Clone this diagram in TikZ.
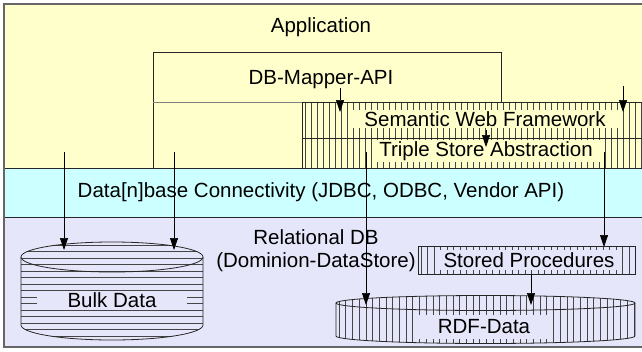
\documentclass[tikz,border=0pt]{standalone}
\usepackage{fontspec}
\setmainfont{Liberation Sans}
\usetikzlibrary{arrows.meta,positioning}
\definecolor{appyellow}{HTML}{FFFFCC}
\definecolor{conncyan}{HTML}{CCFFFF}
\definecolor{dblavender}{HTML}{E6E6FA}
\definecolor{hatchgray}{HTML}{454545}

\begin{document}
\begin{tikzpicture}[x=1pt,y=-1pt]
\tikzset{every node/.style={font=\fontsize{20.5}{23}\selectfont,inner sep=1pt}}
\tikzset{hatch/.style={hatchgray,line width=0.6pt}}
\tikzset{outline/.style={draw=black!85,line width=0.8pt}}
\tikzset{edge/.style={-{Triangle[length=12pt,width=8pt]},line width=0.7pt,black}}
\useasboundingbox (0,0) rectangle (642,351);
% bands
\fill[appyellow] (4,4) rectangle (646,168);
\fill[conncyan] (4,168) rectangle (646,217);
\fill[dblavender] (4,217) rectangle (646,347);

% semantic web framework
\begin{scope}
 \clip (302,102) rectangle (646,168);
 \foreach \x in {305,311,...,646} \draw[hatch] (\x,102) -- (\x,168);
\end{scope}
\node[fill=appyellow,minimum width=266pt,minimum height=17pt] (swf) at (485,119) {Semantic Web Framework};
\node[fill=appyellow,minimum width=228pt,minimum height=19pt] (tsa) at (486,151) {Triple Store Abstraction};
\draw[outline] (302,168) -- (302,102) -- (646,102);
\draw[outline] (302,138) -- (646,138);

% mapper
\draw[outline] (153,168) -- (153,52) -- (501,52) -- (501,102);
\draw[black!50,line width=0.6pt] (153,102) -- (302,102);
\node (mapper) at (321,80) {DB-Mapper-API};
\node (app) at (321,27) {Application};

% connectivity
\draw[outline] (4,168) -- (646,168);
\draw[outline] (4,217) -- (646,217);
\node (conn) at (321,192) {Data[n]base Connectivity (JDBC, ODBC, Vendor API)};

% relational db
\node[align=center] (reldb) at (316,251) {Relational DB\\(Dominion-DataStore)};

% bulk data
\begin{scope}
 \clip (21,257) -- (21,325) arc[start angle=180,end angle=360,x radius=91pt,y radius=15pt]
   -- (203,257) arc[start angle=0,end angle=180,x radius=91pt,y radius=15pt] -- cycle;
 \foreach \y in {245,251.5,...,345} \draw[hatch] (21,\y) -- (203,\y);
\end{scope}
\node[fill=dblavender,minimum width=150pt,minimum height=19pt] (bulk) at (112,300) {Bulk Data};
\draw[outline] (21,257) -- (21,325) arc[start angle=180,end angle=360,x radius=91pt,y radius=15pt]
   -- (203,257) arc[start angle=0,end angle=180,x radius=91pt,y radius=15pt] -- cycle;
\draw[outline] (21,257) arc[start angle=180,end angle=360,x radius=91pt,y radius=15pt];

% stored procedures
\begin{scope}
 \clip (418,246) rectangle (635,274);
 \foreach \x in {421,427.5,...,635} \draw[hatch] (\x,246) -- (\x,274);
\end{scope}
\node[fill=dblavender,minimum width=178pt,minimum height=20pt] (stproc) at (529,260) {Stored Procedures};
\draw[outline] (418,246) rectangle (635,274);

% rdf data
\begin{scope}
 \clip (336,303) -- (336,336) arc[start angle=180,end angle=360,x radius=149.5pt,y radius=7.5pt]
   -- (635,303) arc[start angle=0,end angle=180,x radius=149.5pt,y radius=7.5pt] -- cycle;
 \foreach \x in {339,345.7,...,635} \draw[hatch] (\x,290) -- (\x,350);
\end{scope}
\node[fill=dblavender,minimum width=134pt,minimum height=24pt] (rdf) at (484,327) {RDF-Data};
\draw[outline] (336,303) -- (336,336) arc[start angle=180,end angle=360,x radius=149.5pt,y radius=7.5pt]
   -- (635,303) arc[start angle=0,end angle=180,x radius=149.5pt,y radius=7.5pt] -- cycle;
\draw[outline] (336,303) arc[start angle=180,end angle=360,x radius=149.5pt,y radius=7.5pt];

% frame
\draw[black!60,line width=1.5pt] (646,4) -- (4,4) -- (4,347) -- (646,347);

% connectors
\coordinate (m1) at (340,88);   \coordinate (s1) at (340,112);
\coordinate (m2) at (623,86);   \coordinate (s2) at (623,112);
\coordinate (s3) at (486,130);  \coordinate (t3) at (486,147);
\coordinate (a1) at (64,152);   \coordinate (b1) at (64,250);
\coordinate (a2) at (174,152);  \coordinate (b2) at (174,250);
\coordinate (a3) at (366,152);  \coordinate (r3) at (366,305);
\coordinate (a4) at (604,152);  \coordinate (p4) at (604,247);
\coordinate (p5) at (531,274);  \coordinate (r5) at (531,305);
\draw[edge] (m1) -- (s1);
\draw[edge] (m2) -- (s2);
\draw[edge] (s3) -- (t3);
\draw[edge] (a1) -- (b1);
\draw[edge] (a2) -- (b2);
\draw[edge] (a3) -- (r3);
\draw[edge] (a4) -- (p4);
\draw[edge] (p5) -- (r5);
\end{tikzpicture}
\end{document}
